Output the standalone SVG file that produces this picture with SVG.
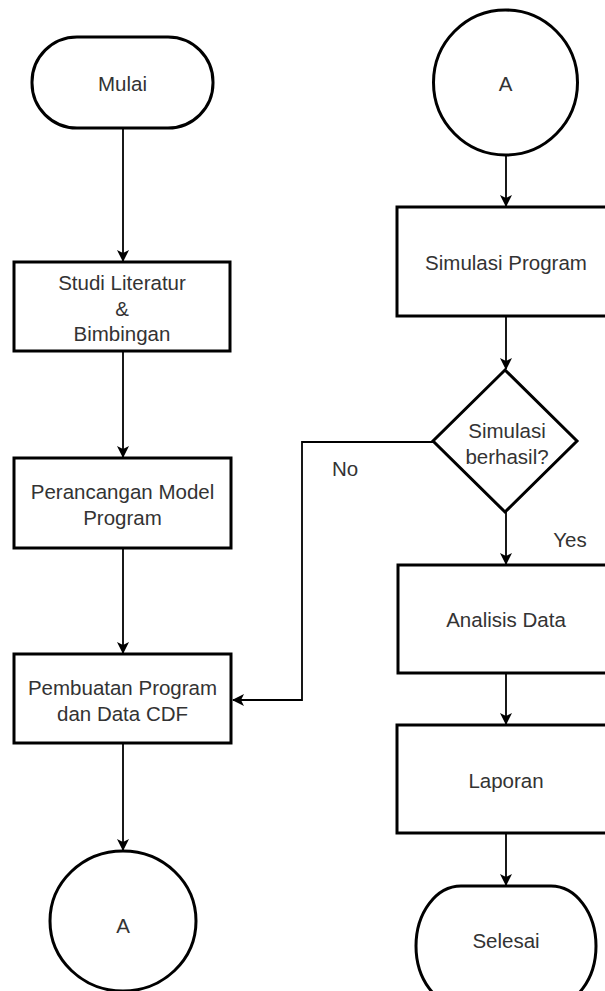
<svg xmlns="http://www.w3.org/2000/svg" width="605" height="991" viewBox="0 0 605 991">
<style>
.s{fill:#fff;stroke:#000;stroke-width:3}
.t{font-family:"Liberation Sans",Arial,sans-serif;font-size:20.5px;fill:#333;text-anchor:middle;dominant-baseline:central}
.c{fill:none;stroke:#000;stroke-width:1.8}
</style>
<defs>
<marker id="ah" viewBox="0 0 12 12" refX="11" refY="6" markerWidth="12" markerHeight="12" markerUnits="userSpaceOnUse" orient="auto">
<path d="M0,0 L12,6 L0,12 L3,6 Z" fill="#000"/>
</marker>
</defs>
<rect width="605" height="991" fill="#fff"/>
<g id="connectors">
<line class="c" x1="123" y1="128" x2="123" y2="261" marker-end="url(#ah)"/>
<line class="c" x1="123" y1="351" x2="123" y2="457" marker-end="url(#ah)"/>
<line class="c" x1="123" y1="548" x2="123" y2="653" marker-end="url(#ah)"/>
<line class="c" x1="123" y1="743" x2="123" y2="850" marker-end="url(#ah)"/>
<line class="c" x1="506" y1="155" x2="506" y2="206" marker-end="url(#ah)"/>
<line class="c" x1="506" y1="316" x2="506" y2="369" marker-end="url(#ah)"/>
<polyline class="c" points="433,442 302,442 302,700 233,700" marker-end="url(#ah)"/>
<line class="c" x1="506" y1="512" x2="506" y2="564" marker-end="url(#ah)"/>
<line class="c" x1="506" y1="673" x2="506" y2="724" marker-end="url(#ah)"/>
<line class="c" x1="506" y1="833" x2="506" y2="885" marker-end="url(#ah)"/>
<text class="t" x="345" y="468">No</text>
<text class="t" x="570" y="539">Yes</text>
</g>
<g id="mulai"><rect class="s" x="32" y="37" width="181" height="91" rx="45" ry="45"/><text class="t" x="122.5" y="83">Mulai</text></g>
<g id="studi"><rect class="s" x="14" y="262" width="216" height="89"/><text class="t" x="122" y="282">Studi Literatur</text><text class="t" x="122" y="308">&amp;</text><text class="t" x="122" y="333">Bimbingan</text></g>
<g id="perancangan"><rect class="s" x="14" y="458" width="217" height="90"/><text class="t" x="122.5" y="491">Perancangan Model</text><text class="t" x="122.5" y="517">Program</text></g>
<g id="pembuatan"><rect class="s" x="14" y="654" width="217" height="89"/><text class="t" x="122.5" y="687">Pembuatan Program</text><text class="t" x="122.5" y="713">dan Data CDF</text></g>
<g id="a-left"><ellipse class="s" cx="123" cy="921" rx="73" ry="70"/><text class="t" x="123" y="925">A</text></g>
<g id="a-right"><ellipse class="s" cx="505.5" cy="82.5" rx="72" ry="72.5"/><text class="t" x="505.5" y="83">A</text></g>
<g id="simulasi"><rect class="s" x="397" y="207" width="218" height="109"/><text class="t" x="506" y="262">Simulasi Program</text></g>
<g id="decision"><polygon class="s" points="505,370 577,441 505,512 433,441"/><text class="t" x="507" y="430">Simulasi</text><text class="t" x="507" y="456">berhasil?</text></g>
<g id="analisis"><rect class="s" x="398" y="565" width="218" height="108"/><text class="t" x="506" y="619">Analisis Data</text></g>
<g id="laporan"><rect class="s" x="397" y="725" width="218" height="108"/><text class="t" x="506" y="780">Laporan</text></g>
<g id="selesai"><rect class="s" x="416" y="886" width="180" height="120" rx="45" ry="60"/><text class="t" x="506" y="940">Selesai</text></g>
</svg>
